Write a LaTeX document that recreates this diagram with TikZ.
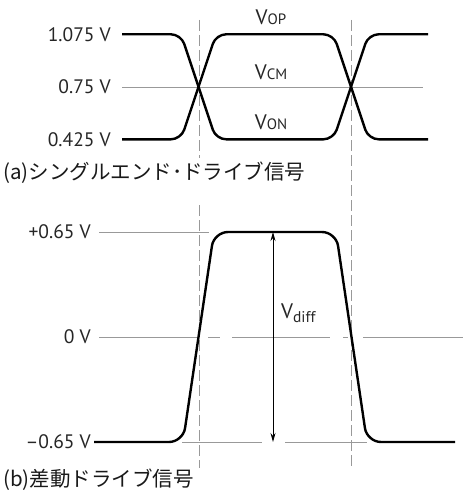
\documentclass[tikz,border=0pt]{standalone}
\usepackage{fontspec}
\setmainfont{PT Sans}
\newfontfamily\jpfont{Noto Sans CJK JP}
\usetikzlibrary{arrows.meta}
\begin{document}
\begin{tikzpicture}[x=1pt,y=-1pt,
  sig/.style={line width=2.4pt, black, line join=round},
  refl/.style={line width=0.9pt, black!40},
  vdash/.style={line width=0.9pt, black!40, dash pattern=on 11pt off 4pt},
  lvl/.style={anchor=east, font=\fontsize{19.5}{20}\selectfont, text=black!85, inner sep=0pt},
  vlab/.style={anchor=base, font=\fontsize{21}{21}\selectfont, text=black!85, inner sep=0pt},
  captext/.style={anchor=west, font=\jpfont\fontsize{20.5}{21}\selectfont, text=black!90, inner sep=1pt}]
\useasboundingbox (0,0) rectangle (463,492);
% ---------- panel (a) ----------
\draw[vdash] (199,20) -- (199,158);
\draw[vdash] (199,205) -- (199,468);
\draw[vdash] (351,20) -- (351,468);
\draw[refl] (122,87) -- (423,87);
\draw[sig, rounded corners=10pt] (122,34.3) -- (181,34.3) -- (216,139.3) -- (333.5,139.3) -- (368.5,34.3) -- (428,34.3);
\draw[sig, rounded corners=10pt] (122,139.3) -- (181,139.3) -- (216,34.3) -- (333.5,34.3) -- (368.5,139.3) -- (428,139.3);
\node[lvl] (la1) at (111,34.3) {1.075 V};
\node[lvl] (la2) at (111,87) {0.75 V};
\node[lvl] (la3) at (111,139.3) {0.425 V};
\node[vlab] (vop) at (271,25) {V{\fontsize{15}{15}\selectfont OP}};
\node[vlab] (vcm) at (271,80) {V{\fontsize{15}{15}\selectfont CM}};
\node[vlab] (von) at (271,129.3) {V{\fontsize{15}{15}\selectfont ON}};
\node[captext] (capa) at (2,173) {(a)シングルエンド･ドライブ信号};
% ---------- panel (b) ----------
\draw[refl] (99,232) -- (209,232);
\draw[refl] (99,337) -- (197,337);
\draw[refl] (208,337) -- (220,337);
\draw[refl] (232,337) -- (330,337);
\draw[refl] (343,337) -- (348,337);
\draw[refl] (363,337) -- (463,337);
\draw[refl] (182,442) -- (262,442);
\draw[refl] (285,442) -- (367,442);
\draw[sig, rounded corners=14pt] (94,442) -- (183,442) -- (214,232) -- (336,232) -- (367,442) -- (455,442);
\coordinate (atop) at (273,232);
\coordinate (abot) at (273,442);
\draw[{Stealth[length=9pt,width=5pt]}-{Stealth[length=9pt,width=5pt]}, line width=0.9pt] (atop) -- (abot);
\node[anchor=west, font=\fontsize{21}{21}\selectfont, text=black!85, inner sep=0pt] (vdiff) at (281,313) {V\raisebox{-4pt}{\fontsize{15.5}{16}\selectfont diff}};
\node[lvl] (lb1) at (91,232) {+0.65 V};
\node[lvl] (lb2) at (91,337) {0 V};
\node[lvl] (lb3) at (91,442) {–0.65 V};
\node[captext] (capb) at (2,480) {(b)差動ドライブ信号};
\end{tikzpicture}
\end{document}
